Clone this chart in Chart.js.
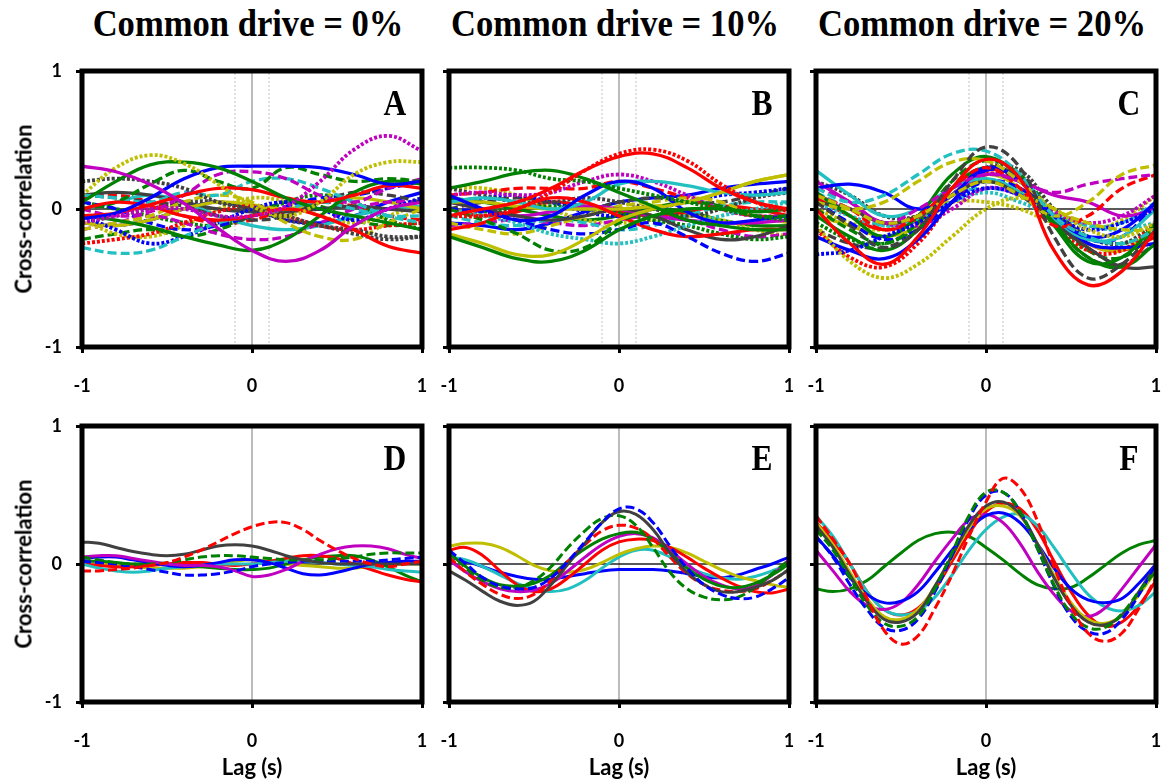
<!DOCTYPE html>
<html>
<head>
<meta charset="utf-8">
<script src="https://cdn.jsdelivr.net/npm/chart.js@4.4.1/dist/chart.umd.min.js"></script>
<style>
  body { margin: 0; background: #fff; }
  #page { position: relative; width: 1168px; height: 780px; overflow: hidden; background: #fff; }
  canvas { position: absolute; }
  .title { position: absolute; top: 4px; font: bold 38px "Liberation Serif", serif; line-height: 38px;
           white-space: nowrap; transform: translateX(-50%) scaleX(0.91); }
  .letter { position: absolute; font: bold 35px "Liberation Serif", serif; line-height: 35px;
            transform: translateX(-50%) scaleX(0.9); }
  .ytitle { position: absolute; left: 23px; font: bold 22px Lato, sans-serif; white-space: nowrap;
            transform: translate(-50%, -50%) rotate(-90deg); }
  .xtitle { position: absolute; top: 766px; font: bold 22px Lato, sans-serif; white-space: nowrap;
            transform: translate(-50%, -50%); }
</style>
</head>
<body>
<div id="page"></div>
<script>
// lag grids (s)
const lagsTop = [-1, -0.8, -0.6, -0.4, -0.2, 0, 0.2, 0.4, 0.6, 0.8, 1];
const lagsBottom = [-1, -0.9, -0.8, -0.7, -0.6, -0.5, -0.4, -0.3, -0.2, -0.1, 0, 0.1, 0.2, 0.3, 0.4, 0.5, 0.6, 0.7, 0.8, 0.9, 1];
const yTicks = [-1, 0, 1];
const zeroLag = [0];
const windowLags = [-0.1, 0.1];

const columnTitles = ['Common drive = 0%', 'Common drive = 10%', 'Common drive = 20%'];
const panelLetters = ['A', 'B', 'C', 'D', 'E', 'F'];

// colour + line type for each trace: first char colour, second char dash type
const keysA = ['ms','mo','yo','gs','bs','rs','rs','gs','cd','gd','md','ko','cd','yd','bo','kd','ro','md','ys','bd','ks','go','cs','rd','ko','yo','bs','gd'];
const valuesA = [
  [0.31, 0.27, 0.18, 0.04, -0.14, -0.3, -0.38, -0.3, -0.12, 0.0, 0.05],
  [-0.1, -0.05, 0.0, 0.0, -0.05, -0.05, 0.02, 0.2, 0.43, 0.53, 0.42],
  [0.1, 0.3, 0.39, 0.33, 0.18, 0.02, -0.05, 0.05, 0.25, 0.34, 0.34],
  [0.05, 0.2, 0.32, 0.34, 0.3, 0.2, 0.08, 0.0, -0.05, -0.1, -0.15],
  [-0.07, -0.03, 0.08, 0.22, 0.3, 0.31, 0.31, 0.3, 0.25, 0.18, 0.2],
  [-0.05, -0.03, 0.03, 0.1, 0.15, 0.14, 0.08, 0.05, 0.1, 0.17, 0.15],
  [0.0, 0.05, 0.02, -0.05, -0.08, -0.05, 0.0, -0.05, -0.15, -0.27, -0.32],
  [-0.05, -0.08, -0.13, -0.2, -0.26, -0.3, -0.22, -0.05, 0.12, 0.2, 0.18],
  [-0.28, -0.32, -0.3, -0.2, -0.1, -0.05, 0.0, 0.05, 0.0, -0.05, -0.05],
  [0.0, 0.05, 0.18, 0.28, 0.2, 0.15, 0.3, 0.25, 0.2, 0.22, 0.2],
  [0.0, -0.05, -0.02, 0.1, 0.25, 0.27, 0.22, 0.1, 0.05, 0.15, 0.22],
  [0.2, 0.22, 0.2, 0.15, 0.05, 0.0, -0.05, -0.12, -0.15, -0.2, -0.2],
  [0.1, 0.08, 0.05, 0.12, 0.1, 0.2, 0.22, 0.15, 0.05, -0.05, -0.1],
  [-0.15, -0.1, -0.05, 0.05, 0.1, 0.05, -0.1, -0.2, -0.22, -0.1, 0.0],
  [-0.05, -0.15, -0.25, -0.2, -0.1, 0.0, 0.05, 0.0, -0.08, 0.0, 0.08],
  [0.1, 0.08, 0.05, 0.02, -0.05, -0.08, -0.05, 0.05, 0.12, 0.1, 0.05],
  [-0.25, -0.22, -0.18, -0.1, -0.02, 0.02, -0.05, -0.12, -0.15, -0.12, -0.1],
  [-0.15, -0.1, -0.05, -0.1, -0.18, -0.22, -0.2, -0.1, 0.0, 0.05, 0.05],
  [-0.1, -0.12, -0.08, 0.0, 0.05, 0.03, 0.0, 0.05, 0.08, 0.05, 0.0],
  [0.05, 0.0, -0.1, -0.15, -0.12, -0.05, 0.02, 0.08, 0.1, 0.15, 0.2],
  [0.1, 0.12, 0.1, 0.05, 0.0, -0.02, -0.02, 0.0, 0.02, 0.0, -0.02],
  [0.05, 0.0, -0.05, -0.1, -0.12, -0.05, 0.05, 0.1, 0.05, -0.08, -0.15],
  [0.0, 0.05, 0.1, 0.05, -0.05, -0.12, -0.15, -0.12, -0.05, 0.0, 0.02],
  [0.08, 0.1, 0.05, -0.05, -0.1, -0.08, 0.0, 0.05, 0.02, -0.05, -0.08],
  [-0.1, -0.05, 0.0, 0.05, 0.05, 0.0, -0.08, -0.12, -0.18, -0.22, -0.2],
  [-0.08, -0.18, -0.2, -0.12, 0.0, 0.08, 0.05, -0.05, -0.1, -0.05, 0.05],
  [-0.1, -0.12, -0.08, 0.0, 0.05, 0.0, -0.08, -0.1, -0.05, 0.05, 0.12],
  [-0.22, -0.18, -0.15, -0.2, -0.15, -0.05, 0.05, 0.02, -0.08, -0.12, -0.1]
];

const keysB = ['ro','rs','go','gs','gs','ys','gd','bd','bs','rs','cs','co','ys','ks','mo','ms','yd','ko','go','bo','cd','rd','md','kd','yo','bs','gs','rs'];
const valuesB = [
  [-0.05, -0.05, 0.0, 0.12, 0.28, 0.4, 0.43, 0.35, 0.18, 0.05, -0.02],
  [-0.05, 0.0, 0.05, 0.15, 0.28, 0.38, 0.4, 0.3, 0.15, 0.05, 0.0],
  [0.3, 0.3, 0.28, 0.22, 0.2, 0.15, 0.1, 0.05, 0.0, -0.05, -0.08],
  [0.15, 0.2, 0.26, 0.28, 0.22, 0.12, 0.02, -0.08, -0.12, -0.15, -0.15],
  [-0.2, -0.28, -0.36, -0.38, -0.3, -0.15, -0.05, 0.0, 0.0, -0.02, 0.0],
  [-0.18, -0.25, -0.33, -0.33, -0.22, -0.08, 0.0, 0.05, 0.12, 0.2, 0.25],
  [0.0, -0.08, -0.18, -0.3, -0.28, -0.1, 0.0, 0.05, 0.02, -0.05, -0.05],
  [0.0, -0.02, -0.08, -0.15, -0.18, -0.15, -0.1, -0.2, -0.32, -0.38, -0.32],
  [0.1, 0.0, -0.08, -0.05, 0.1, 0.2, 0.15, -0.02, -0.1, -0.08, -0.05],
  [-0.15, -0.1, 0.0, 0.08, 0.05, -0.05, -0.15, -0.2, -0.18, -0.15, -0.15],
  [0.05, 0.08, 0.05, 0.0, 0.05, 0.18, 0.2, 0.17, 0.12, 0.1, 0.12],
  [0.0, -0.05, -0.1, -0.18, -0.22, -0.25, -0.2, -0.12, -0.05, 0.0, 0.05],
  [0.05, 0.05, 0.02, 0.0, 0.0, 0.0, 0.02, 0.05, 0.12, 0.2, 0.25],
  [0.05, 0.0, -0.05, -0.08, -0.05, 0.0, -0.05, -0.15, -0.22, -0.2, -0.12],
  [0.1, 0.12, 0.1, 0.12, 0.2, 0.25, 0.2, 0.1, 0.0, -0.05, -0.05],
  [0.05, 0.0, -0.05, -0.02, 0.02, 0.0, -0.05, -0.08, -0.1, -0.1, -0.08],
  [-0.1, -0.15, -0.18, -0.12, -0.05, 0.02, 0.05, 0.08, 0.05, -0.05, -0.1],
  [0.15, 0.1, 0.05, 0.05, 0.08, 0.05, 0.0, -0.05, 0.0, 0.08, 0.12],
  [-0.05, -0.02, 0.0, 0.02, 0.0, -0.03, -0.08, -0.12, -0.18, -0.22, -0.2],
  [0.05, 0.08, 0.1, 0.05, -0.02, -0.05, 0.0, 0.05, 0.1, 0.12, 0.15],
  [-0.05, -0.1, -0.12, -0.08, -0.1, -0.15, -0.12, -0.05, 0.02, 0.05, 0.05],
  [0.1, 0.12, 0.15, 0.15, 0.15, 0.2, 0.15, 0.08, 0.0, -0.05, -0.05],
  [-0.12, -0.1, -0.08, -0.1, -0.12, -0.08, -0.05, -0.08, -0.15, -0.2, -0.18],
  [0.0, 0.05, 0.08, 0.05, 0.0, 0.05, 0.08, 0.05, 0.05, 0.1, 0.15],
  [0.15, 0.15, 0.1, 0.0, -0.08, -0.1, -0.08, -0.05, -0.08, -0.15, -0.2],
  [-0.1, -0.12, -0.15, -0.1, -0.02, 0.05, 0.08, 0.1, 0.15, 0.18, 0.2],
  [0.08, 0.05, 0.0, -0.05, -0.08, -0.05, 0.0, -0.02, -0.08, -0.12, -0.12],
  [0.0, -0.05, -0.02, 0.05, 0.02, -0.02, -0.05, -0.02, 0.02, 0.0, -0.05]
];

const keysC = ['rs','kd','cd','yd','yo','yd','md','rd','bs','bo','gs','gs','ks','cs','ms','bs','ro','gd','bd','mo','ys','ko','co','go','rs','yo','kd','cd'];
const valuesC = [
  [0.0, -0.25, -0.4, -0.2, 0.15, 0.36, 0.22, -0.3, -0.55, -0.45, -0.15],
  [0.05, -0.12, -0.28, -0.15, 0.2, 0.45, 0.3, -0.2, -0.5, -0.4, -0.15],
  [0.15, 0.05, 0.1, 0.25, 0.4, 0.42, 0.25, -0.05, -0.2, -0.25, -0.15],
  [0.05, 0.0, 0.05, 0.2, 0.34, 0.35, 0.2, 0.0, -0.1, -0.15, -0.15],
  [-0.12, -0.38, -0.5, -0.4, -0.2, 0.0, 0.08, 0.0, -0.15, -0.2, -0.1],
  [0.1, 0.0, -0.1, -0.05, 0.1, 0.2, 0.1, -0.05, 0.05, 0.25, 0.32],
  [0.15, 0.05, -0.1, 0.0, 0.15, 0.25, 0.2, 0.12, 0.18, 0.22, 0.25],
  [0.1, 0.0, -0.15, -0.05, 0.15, 0.3, 0.15, -0.12, -0.05, 0.15, 0.25],
  [0.15, 0.18, 0.12, 0.0, 0.1, 0.3, 0.2, -0.05, -0.2, -0.15, 0.05],
  [-0.33, -0.3, -0.2, -0.1, 0.05, 0.15, 0.1, -0.05, -0.15, -0.1, 0.0],
  [0.12, -0.05, -0.2, -0.05, 0.25, 0.38, 0.22, -0.12, -0.38, -0.35, -0.1],
  [-0.05, -0.2, -0.3, -0.15, 0.15, 0.3, 0.2, -0.1, -0.35, -0.42, -0.25],
  [0.05, 0.0, -0.1, -0.05, 0.1, 0.2, 0.1, -0.1, -0.28, -0.42, -0.42],
  [0.28, 0.1, -0.05, 0.0, 0.15, 0.22, 0.12, -0.08, -0.22, -0.2, 0.0],
  [0.2, 0.05, -0.1, -0.05, 0.1, 0.25, 0.2, 0.1, 0.05, -0.05, 0.0],
  [-0.2, -0.3, -0.36, -0.22, 0.05, 0.28, 0.22, -0.05, -0.25, -0.28, -0.25],
  [-0.15, -0.35, -0.42, -0.25, 0.05, 0.25, 0.2, -0.1, -0.3, -0.3, -0.1],
  [0.0, -0.15, -0.25, -0.1, 0.2, 0.35, 0.25, -0.05, -0.3, -0.35, -0.15],
  [0.05, -0.1, -0.22, -0.15, 0.05, 0.2, 0.15, -0.05, -0.22, -0.2, 0.05],
  [0.1, 0.0, -0.1, -0.12, 0.0, 0.15, 0.1, -0.02, -0.1, -0.05, 0.1],
  [-0.05, -0.12, -0.2, -0.12, 0.1, 0.25, 0.15, -0.08, -0.25, -0.3, -0.12],
  [0.2, 0.1, -0.05, -0.05, 0.1, 0.3, 0.28, 0.0, -0.2, -0.25, -0.1],
  [0.05, -0.05, -0.12, -0.08, 0.05, 0.12, 0.05, -0.05, -0.12, -0.15, -0.1],
  [-0.1, -0.22, -0.25, -0.12, 0.1, 0.2, 0.12, -0.05, -0.2, -0.25, -0.15],
  [0.08, -0.05, -0.15, -0.08, 0.1, 0.28, 0.22, -0.05, -0.25, -0.3, -0.2],
  [0.0, -0.1, -0.15, -0.05, 0.05, 0.05, 0.0, -0.1, -0.15, -0.08, 0.1],
  [-0.15, -0.25, -0.28, -0.15, 0.1, 0.3, 0.22, -0.1, -0.35, -0.4, -0.25],
  [0.12, 0.0, -0.12, -0.05, 0.1, 0.15, 0.1, -0.02, -0.12, -0.1, 0.05]
];

const keysD = ['rd','ks','gd','bd','ms','bs','cs','rs','gs','ys'];
const valuesD = [
  [-0.05, -0.05, -0.04, -0.03, -0.01, 0.01, 0.05, 0.1, 0.16, 0.22, 0.27, 0.3, 0.3, 0.25, 0.17, 0.1, 0.04, 0.0, -0.02, 0.0, 0.02],
  [0.16, 0.15, 0.12, 0.09, 0.07, 0.06, 0.07, 0.1, 0.13, 0.14, 0.13, 0.1, 0.06, 0.03, 0.01, 0.0, 0.0, 0.0, 0.0, 0.0, 0.0],
  [0.05, 0.03, 0.01, 0.0, 0.0, 0.01, 0.03, 0.05, 0.06, 0.06, 0.05, 0.04, 0.03, 0.03, 0.03, 0.04, 0.05, 0.07, 0.08, 0.08, 0.08],
  [0.02, 0.01, 0.0, -0.02, -0.04, -0.06, -0.08, -0.08, -0.07, -0.05, -0.02, 0.0, 0.01, 0.02, 0.02, 0.02, 0.02, 0.02, 0.03, 0.04, 0.05],
  [0.05, 0.06, 0.06, 0.04, 0.02, 0.0, -0.01, -0.01, -0.02, -0.05, -0.09, -0.08, -0.04, 0.02, 0.07, 0.11, 0.13, 0.13, 0.11, 0.07, 0.04],
  [0.04, 0.05, 0.05, 0.03, 0.01, -0.01, -0.02, -0.01, 0.01, 0.03, 0.03, 0.01, -0.03, -0.07, -0.08, -0.06, -0.03, 0.0, 0.01, 0.02, 0.02],
  [0.0, -0.03, -0.05, -0.06, -0.05, -0.03, -0.02, -0.01, 0.0, 0.0, 0.0, 0.01, 0.02, 0.02, 0.01, 0.0, -0.01, -0.02, -0.04, -0.05, -0.06],
  [0.0, -0.01, -0.02, -0.02, -0.01, 0.0, 0.01, 0.01, 0.0, -0.01, 0.0, 0.02, 0.04, 0.06, 0.06, 0.04, 0.0, -0.04, -0.08, -0.11, -0.13],
  [0.02, 0.02, 0.01, 0.0, 0.0, 0.0, -0.01, -0.02, -0.03, -0.04, -0.04, -0.03, 0.0, 0.03, 0.05, 0.06, 0.06, 0.03, -0.02, -0.08, -0.13],
  [0.0, 0.0, -0.01, -0.02, -0.03, -0.03, -0.03, -0.02, 0.0, 0.02, 0.03, 0.02, 0.0, -0.01, -0.02, -0.03, -0.03, -0.02, -0.01, 0.0, 0.0]
];

const keysE = ['bd','ks','gd','rd','gs','ms','rs','ys','cs','bs'];
const valuesE = [
  [0.1, 0.0, -0.1, -0.16, -0.18, -0.17, -0.1, 0.02, 0.16, 0.3, 0.4, 0.4, 0.3, 0.13, -0.03, -0.15, -0.22, -0.25, -0.24, -0.18, -0.1],
  [-0.05, -0.12, -0.2, -0.27, -0.3, -0.27, -0.15, 0.0, 0.15, 0.3, 0.38, 0.36, 0.25, 0.08, -0.06, -0.15, -0.2, -0.2, -0.17, -0.12, -0.04],
  [0.1, -0.03, -0.12, -0.17, -0.17, -0.12, -0.02, 0.12, 0.24, 0.33, 0.35, 0.28, 0.12, -0.06, -0.18, -0.24, -0.26, -0.24, -0.17, -0.07, 0.03],
  [0.05, -0.06, -0.15, -0.22, -0.25, -0.22, -0.12, 0.02, 0.14, 0.24, 0.28, 0.26, 0.18, 0.05, -0.07, -0.15, -0.19, -0.2, -0.18, -0.12, -0.04],
  [0.08, -0.02, -0.1, -0.15, -0.16, -0.14, -0.08, 0.02, 0.11, 0.18, 0.22, 0.23, 0.18, 0.08, -0.03, -0.11, -0.16, -0.17, -0.14, -0.08, 0.0],
  [0.03, -0.06, -0.13, -0.18, -0.2, -0.19, -0.14, -0.05, 0.05, 0.14, 0.2, 0.22, 0.19, 0.1, 0.0, -0.09, -0.15, -0.18, -0.16, -0.08, 0.03],
  [0.1, 0.12, 0.06, -0.05, -0.15, -0.2, -0.18, -0.1, 0.0, 0.1, 0.16, 0.18, 0.17, 0.12, 0.05, -0.03, -0.1, -0.16, -0.2, -0.21, -0.18],
  [0.13, 0.15, 0.15, 0.12, 0.06, -0.01, -0.05, -0.06, -0.04, 0.01, 0.07, 0.11, 0.13, 0.12, 0.08, 0.02, -0.04, -0.09, -0.12, -0.15, -0.17],
  [0.05, 0.03, -0.02, -0.08, -0.14, -0.18, -0.2, -0.18, -0.12, -0.03, 0.05, 0.1, 0.1, 0.05, -0.02, -0.07, -0.1, -0.11, -0.09, -0.05, 0.0],
  [0.05, 0.02, -0.02, -0.06, -0.09, -0.11, -0.11, -0.09, -0.07, -0.05, -0.04, -0.04, -0.04, -0.05, -0.07, -0.09, -0.1, -0.08, -0.04, 0.0, 0.05]
];

const keysF = ['rd','gd','bd','ks','ys','bs','ms','cs','rs','gs'];
const valuesF = [
  [0.35, 0.18, 0.0, -0.25, -0.48, -0.58, -0.52, -0.32, -0.08, 0.2, 0.45, 0.62, 0.55, 0.32, -0.02, -0.3, -0.5, -0.56, -0.5, -0.32, -0.1],
  [0.25, 0.1, -0.1, -0.3, -0.43, -0.45, -0.38, -0.18, 0.08, 0.35, 0.52, 0.52, 0.38, 0.12, -0.15, -0.36, -0.46, -0.46, -0.36, -0.2, -0.05],
  [0.2, 0.05, -0.15, -0.33, -0.46, -0.48, -0.4, -0.2, 0.06, 0.33, 0.5, 0.52, 0.38, 0.12, -0.16, -0.38, -0.49, -0.5, -0.4, -0.22, 0.0],
  [0.28, 0.12, -0.08, -0.27, -0.4, -0.42, -0.35, -0.16, 0.06, 0.28, 0.42, 0.45, 0.36, 0.15, -0.1, -0.3, -0.42, -0.44, -0.37, -0.2, 0.0],
  [0.3, 0.14, -0.06, -0.25, -0.38, -0.4, -0.33, -0.16, 0.05, 0.26, 0.4, 0.42, 0.35, 0.15, -0.08, -0.28, -0.4, -0.43, -0.37, -0.22, -0.05],
  [0.2, 0.06, -0.1, -0.22, -0.28, -0.27, -0.2, -0.06, 0.1, 0.25, 0.35, 0.37, 0.3, 0.15, -0.03, -0.18, -0.26, -0.28, -0.25, -0.14, 0.0],
  [0.1, -0.05, -0.2, -0.3, -0.33, -0.28, -0.15, 0.02, 0.18, 0.32, 0.36, 0.3, 0.15, -0.05, -0.22, -0.34, -0.38, -0.32, -0.18, -0.02, 0.14],
  [0.35, 0.2, 0.0, -0.2, -0.33, -0.37, -0.34, -0.24, -0.08, 0.1, 0.25, 0.34, 0.36, 0.28, 0.12, -0.06, -0.22, -0.31, -0.34, -0.3, -0.2],
  [0.3, 0.17, 0.0, -0.2, -0.33, -0.37, -0.32, -0.18, 0.02, 0.22, 0.38, 0.44, 0.4, 0.25, 0.02, -0.2, -0.37, -0.45, -0.42, -0.3, -0.12],
  [-0.18, -0.2, -0.18, -0.12, -0.02, 0.08, 0.17, 0.22, 0.23, 0.2, 0.12, 0.03, -0.07, -0.15, -0.18, -0.17, -0.1, -0.01, 0.08, 0.14, 0.17]
];

const COLORS = { b: '#0000ff', r: '#ff0000', g: '#008000', m: '#c000c0', c: '#22c0c0', y: '#bfbf00', k: '#404040' };
const DASHES = { s: [], d: [9, 4], o: [3, 2] };

// chart area of each panel on the page
const AREA_W = 340, AREA_H = 276, AXIS_W = 50, AXIS_H = 60, PAD = 10;
const panels = [
  { left: 82,  top: 71,  lags: lagsTop,    rows: valuesA, keys: keysA },
  { left: 449, top: 71,  lags: lagsTop,    rows: valuesB, keys: keysB },
  { left: 816, top: 71,  lags: lagsTop,    rows: valuesC, keys: keysC },
  { left: 82,  top: 426, lags: lagsBottom, rows: valuesD, keys: keysD },
  { left: 449, top: 426, lags: lagsBottom, rows: valuesE, keys: keysE },
  { left: 816, top: 426, lags: lagsBottom, rows: valuesF, keys: keysF }
];

Chart.defaults.font.family = 'Lato';

const framePlugin = {
  id: 'frame',
  afterDatasetsDraw(chart) {
    const { ctx, chartArea: a } = chart;
    ctx.save();
    ctx.lineWidth = 5;
    ctx.strokeStyle = '#000';
    ctx.strokeRect(a.left, a.top, a.right - a.left, a.bottom - a.top);
    ctx.restore();
  }
};

function traceSets(lags, rows, keys, width) {
  return rows.map((row, i) => ({
    data: row.map((v, j) => ({ x: lags[j], y: v })),
    borderColor: COLORS[keys[i][0]],
    borderDash: DASHES[keys[i][1]],
    borderWidth: keys[i][1] === 'o' ? width + 0.5 : width,
    pointRadius: 0,
    tension: 0.4,
    fill: false,
    order: 1
  }));
}

function guideSets(topRow) {
  const sets = [];
  sets.push({ data: [{ x: -1, y: 0 }, { x: 1, y: 0 }], borderColor: '#222', borderWidth: 1.5, pointRadius: 0, order: 3 });
  zeroLag.forEach(l => sets.push({
    data: [{ x: l, y: -1 }, { x: l, y: 1 }], borderColor: '#a6a6a6', borderWidth: 1.5, pointRadius: 0, order: 3
  }));
  if (topRow) windowLags.forEach(l => sets.push({
    data: [{ x: l, y: -1 }, { x: l, y: 1 }], borderColor: '#c4c4c4', borderWidth: 1, borderDash: [2, 2], pointRadius: 0, order: 3
  }));
  return sets;
}

const page = document.getElementById('page');

panels.forEach((p, idx) => {
  const col = idx % 3, topRow = idx < 3;
  const cv = document.createElement('canvas');
  cv.width = AXIS_W + AREA_W + PAD;
  cv.height = PAD + AREA_H + AXIS_H;
  cv.style.left = (p.left - AXIS_W) + 'px';
  cv.style.top = (p.top - PAD) + 'px';
  page.appendChild(cv);

  new Chart(cv, {
    type: 'line',
    data: { datasets: traceSets(p.lags, p.rows, p.keys, topRow ? 3.3 : 3).concat(guideSets(topRow)) },
    options: {
      responsive: false,
      animation: false,
      events: [],
      layout: { autoPadding: false, padding: { top: PAD, right: PAD, left: 0, bottom: 0 } },
      plugins: { legend: { display: false }, tooltip: { enabled: false } },
      scales: {
        x: {
          type: 'linear', min: -1, max: 1,
          afterFit: s => { s.height = AXIS_H; s.paddingLeft = 0; s.paddingRight = 0; },
          afterBuildTicks: s => { s.ticks = yTicks.map(v => ({ value: v })); },
          border: { display: false },
          grid: { drawOnChartArea: false, drawTicks: true, tickLength: 6, tickWidth: 3, tickColor: '#000' },
          ticks: { padding: 22, color: '#000', font: { size: 18, weight: 'bold' }, maxRotation: 0, callback: v => String(v) }
        },
        y: {
          type: 'linear', min: -1, max: 1,
          afterFit: s => { s.width = AXIS_W; s.paddingTop = 0; s.paddingBottom = 0; },
          afterBuildTicks: s => { s.ticks = yTicks.map(v => ({ value: v })); },
          border: { display: false },
          grid: { drawOnChartArea: false, drawTicks: true, tickLength: 6, tickWidth: 3, tickColor: '#000' },
          ticks: { padding: 14, color: '#000', font: { size: 18, weight: 'bold' }, callback: v => col === 0 ? String(v) : '' }
        }
      }
    },
    plugins: [framePlugin]
  });

  const letter = document.createElement('div');
  letter.className = 'letter';
  letter.textContent = panelLetters[idx];
  letter.style.left = (p.left + AREA_W - 27) + 'px';
  letter.style.top = (p.top + 15) + 'px';
  page.appendChild(letter);

  if (topRow) {
    const t = document.createElement('div');
    t.className = 'title';
    t.textContent = columnTitles[col];
    t.style.left = (p.left + AREA_W / 2 - 4) + 'px';
    page.appendChild(t);
  } else {
    const xt = document.createElement('div');
    xt.className = 'xtitle';
    xt.textContent = 'Lag (s)';
    xt.style.left = (p.left + AREA_W / 2) + 'px';
    page.appendChild(xt);
  }
  if (col === 0) {
    const yt = document.createElement('div');
    yt.className = 'ytitle';
    yt.textContent = 'Cross-correlation';
    yt.style.top = (p.top + AREA_H / 2) + 'px';
    page.appendChild(yt);
  }
});
</script>
</body>
</html>
